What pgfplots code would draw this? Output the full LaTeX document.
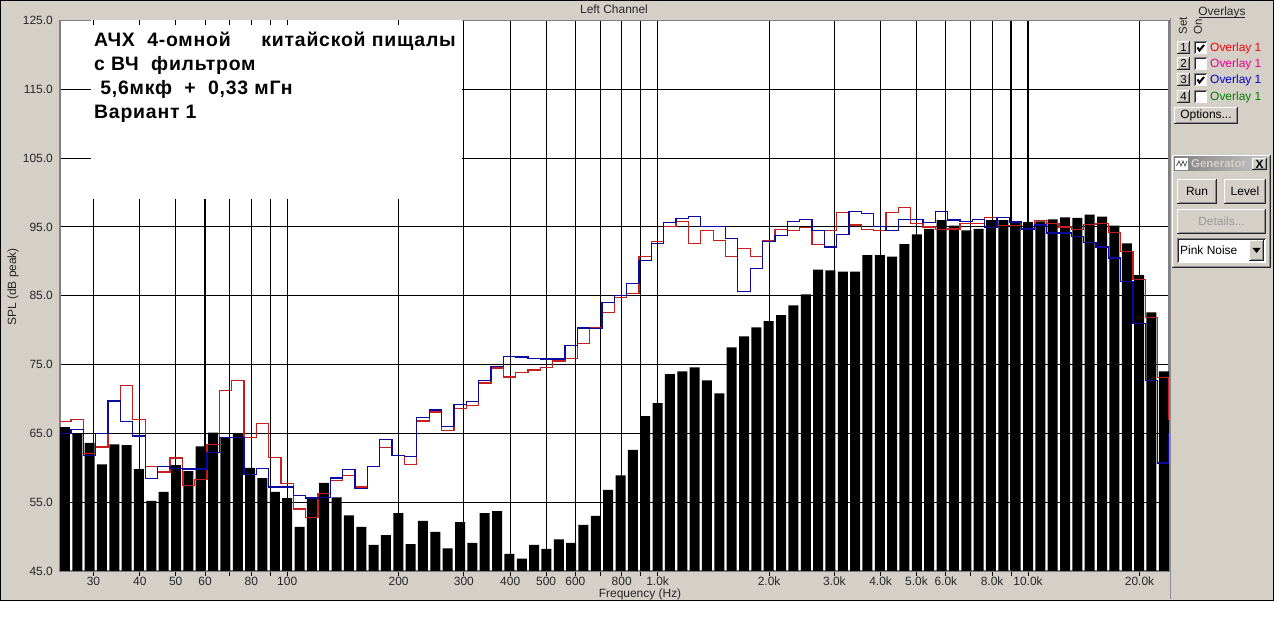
\documentclass[border=0pt]{standalone}
\usepackage{pgfplots}
\usepackage{pgfplotstable}
\pgfplotsset{compat=1.18}
\usepackage{fontspec}
\setmainfont{Liberation Sans}
\definecolor{wingray}{HTML}{D4D0C8}
\definecolor{redline}{HTML}{C81E1E}
\definecolor{blueline}{HTML}{0A0AA0}
\pgfplotsset{layers/mylayers/.define layer set={axis background,axis grid,annot,axis ticks,main,axis lines,axis tick labels,axis descriptions,axis foreground}{}}

% k: band index, centre frequency = 10^(k/30) Hz (1/30 decade bands)
\pgfplotstableread{
k bar red blue
42 65.9 66.7 65.0
43 65.0 67.0 65.6
44 63.6 62.1 61.8
45 60.5 63.0 65.0
46 63.4 69.7 69.7
47 63.3 72.0 66.7
48 59.8 67.0 64.6
49 55.2 60.2 58.4
50 56.5 59.4 60.2
51 60.4 61.4 59.9
52 59.5 57.4 59.8
53 63.1 58.3 59.8
54 65.1 63.4 62.2
55 64.4 71.2 64.4
56 65.0 72.7 64.4
57 60.0 64.4 59.0
58 58.5 66.4 59.9
59 56.5 61.5 57.2
60 55.6 57.7 57.2
61 51.4 54.0 56.0
62 55.5 52.8 55.6
63 57.8 56.3 55.7
64 55.7 58.1 58.5
65 53.1 58.9 59.7
66 51.4 57.2 57.0
67 48.8 60.2 60.2
68 50.2 62.9 64.1
69 53.4 61.8 61.8
70 48.9 60.5 61.6
71 52.3 66.8 67.3
72 50.7 68.1 68.4
73 48.3 65.4 66.0
74 52.1 68.6 69.2
75 49.1 69.1 69.6
76 53.4 72.3 72.7
77 53.7 74.5 74.7
78 47.5 73.2 76.2
79 46.8 73.8 76.1
80 48.8 74.2 75.9
81 48.2 74.6 75.8
82 49.6 75.5 75.8
83 49.1 75.9 77.8
84 51.7 78.1 80.3
85 53.0 80.3 80.2
86 56.8 82.6 84.0
87 58.9 84.7 85.0
88 62.6 85.3 86.8
89 67.5 90.7 90.1
90 69.4 92.9 92.6
91 73.6 95.1 95.6
92 74.0 95.8 96.2
93 74.6 92.6 96.5
94 72.7 94.5 95.1
95 70.8 93.0 95.1
96 77.5 90.7 93.3
97 79.1 91.9 85.6
98 80.4 90.7 89.0
99 81.3 93.0 92.9
100 82.2 94.6 93.8
101 83.6 94.5 95.8
102 85.2 94.9 96.1
103 88.8 92.4 94.5
104 88.7 94.5 92.1
105 88.5 97.1 93.9
106 88.5 95.3 97.2
107 90.9 94.6 97.0
108 90.9 94.5 95.1
109 90.7 97.1 94.5
110 92.5 97.8 96.1
111 93.9 95.5 96.1
112 94.7 95.0 95.6
113 96.0 94.6 97.2
114 95.2 94.7 96.0
115 94.5 95.5 95.8
116 94.7 95.5 96.1
117 96.0 96.4 94.9
118 96.0 95.2 96.4
119 95.8 95.2 95.7
120 95.7 94.6 94.7
121 95.8 95.9 95.3
122 96.1 95.5 94.1
123 96.4 95.0 94.1
124 96.3 94.6 93.6
125 96.8 95.4 92.7
126 96.5 95.5 92.1
127 95.2 94.2 90.5
128 92.6 91.4 87.1
129 88.0 87.4 81.0
130 82.6 81.8 72.7
131 74.0 73.1 60.7
131.9 nan 66.9 65.0
}\data

\newcommand\winbtn[4]{%
  \fill[wingray] (#1,#2) rectangle (#3,#4);
  \draw[white, line width=1bp] ({#1+0.5},{#4-1}) -- ({#1+0.5},{#2+0.5}) -- ({#3-1},{#2+0.5});
  \draw[black!45, line width=1bp] ({#1+1.5},{#4-1.5}) -- ({#3-1.5},{#4-1.5}) -- ({#3-1.5},{#2+1.5});
  \draw[black!85, line width=1bp] ({#1},{#4-0.5}) -- ({#3-0.5},{#4-0.5}) -- ({#3-0.5},{#2});
}
\newcommand\chkbox[2]{%
  \fill[white] (#1,#2) rectangle ({#1+13},{#2+13});
  \draw[black!50, line width=1bp] (#1+0.5,{#2+13}) -- (#1+0.5,#2+0.5) -- ({#1+13},#2+0.5);
  \draw[black!85, line width=1bp] (#1+1.5,{#2+12}) -- (#1+1.5,#2+1.5) -- ({#1+12},#2+1.5);
}
\newcommand\chkmark[2]{%
  \draw[black, line width=2bp] ({#1+3.5},{#2+6}) -- ({#1+5.5},{#2+9}) -- ({#1+10},{#2+3.5});
}

\begin{document}
\begin{tikzpicture}[x=1bp,y=1bp]
\fill[white] (0,0) rectangle (1274,637);
\fill[wingray] (0,37) rectangle (1274,637);

\begin{axis}[
  at={(60bp,66bp)}, anchor=south west, scale only axis,
  width=1109bp, height=550.5bp,
  set layers=mylayers,
  xmode=log, xmin=24.36, xmax=24033, ymin=45, ymax=125,
  axis background/.style={fill=white},
  xtick={30,40,50,60,80,100,200,300,400,500,600,800,1000,2000,3000,4000,5000,6000,8000,10000,20000},
  xticklabels={30,40,50,60,80,100,200,300,400,500,600,800,1.0k,2.0k,3.0k,4.0k,5.0k,6.0k,8.0k,10.0k,20.0k},
  minor xtick={70,90,700,900,7000,9000},
  ytick={45,55,65,75,85,95,105,115,125},
  yticklabels={45.0,55.0,65.0,75.0,85.0,95.0,105.0,115.0,125.0},
  xmajorgrids, xminorgrids, ymajorgrids,
  grid style={black, line width=1.15bp},
  minor grid style={black, line width=1.15bp},
  tick align=outside, xtick pos=bottom, ytick pos=left,
  major tick length=5bp, minor tick length=5bp,
  tick style={black, line width=1bp},
  ytick style={draw=none},
  ticklabel style={font=\fontsize{12}{14}\selectfont, text=black!85},
  xticklabel style={inner sep=1bp},
  yticklabel style={inner sep=2bp},
  axis line style={black!50, line width=1.5bp},
  xlabel={Frequency (Hz)}, ylabel={SPL (dB peak)},
  label style={font=\fontsize{12}{14}\selectfont, text=black!85, inner sep=0bp},
  xlabel style={at={(axis description cs:0.523,-0.0425)}, anchor=center},
  ylabel style={at={(axis description cs:-0.0424,0.516)}, anchor=center},
]
\fill[white, on layer=annot] (axis cs:29.5,99.06) rectangle (axis cs:296.5,126);
\pgfplotsinvokeforeach{30,40,50,60,70,80,90,100,200}{
  \draw[black, line width=1bp, on layer=annot] (axis cs:#1,125) -- ([yshift=-5bp]axis cs:#1,125);
}
\addplot[ybar, bar width=10bp, fill=black, draw=none] table[x expr={10^(\thisrow{k}/30)}, y=bar] {\data};
\addplot[const plot mark left, redline, line width=1.3bp] table[x expr={10^((\thisrow{k}-0.5)/30)}, y=red] {\data};
\addplot[const plot mark left, blueline, line width=1.3bp] table[x expr={10^((\thisrow{k}-0.5)/30)}, y=blue] {\data};
\end{axis}

% annotation
\begin{scope}[font=\fontsize{19.5}{24}\selectfont\bfseries\addfontfeature{LetterSpace=4}]
\node[anchor=base west, inner sep=0] at (94,{637-46.7}) {АЧХ\ \ 4-омной\ \ \ \ \hspace{6bp}китайской пищалы};
\node[anchor=base west, inner sep=0] at (94,{637-70.7}) {с ВЧ\ \ фильтром};
\node[anchor=base west, inner sep=0] at (94,{637-95}) {\ 5,6мкф\ \ +\ \ 0,33 мГн};
\node[anchor=base west, inner sep=0] at (94,{637-119}) {Вариант 1};
\end{scope}

\node[font=\fontsize{12}{14}\selectfont, text=black!85] at (614,{637-9}) {Left Channel};

% outer frame
\draw[black, line width=1bp] (0.5,36.5) rectangle (1273.5,636.5);

% right panel (image coordinates, y downward)
\begin{scope}[shift={(0,637)}, yscale=-1]
\fill[wingray] (1169.5,18) rectangle (1273,599.5);
\draw[black!45, line width=1bp] (1170.5,18) -- (1170.5,599.5);
\node[font=\fontsize{12}{14}\selectfont, text=black!85] at (1222,12) {Overlays};
\draw[black!85, line width=0.8bp] (1199,17.5) -- (1245,17.5);
\node[font=\fontsize{11.5}{13}\selectfont, text=black!85, rotate=90] at (1183,26) {Set};
\node[font=\fontsize{11.5}{13}\selectfont, text=black!85, rotate=90] at (1198,27) {On};
\foreach \yc/\num/\col/\on in {48/1/red/1, 64/2/magenta/0, 80/3/blue!80!black/1, 97/4/green!50!black/0}{
  \winbtn{1177}{\yc-6.5}{1190}{\yc+6.5}
  \node[font=\fontsize{11.5}{13}\selectfont, text=black] at (1183.5,\yc) {\num};
  \chkbox{1194}{\yc-6.5}
  \ifnum\on=1 \chkmark{1194}{\yc-6.5}\fi
  \node[anchor=west, inner sep=0, font=\fontsize{12}{14}\selectfont, text=\col] at (1210,\yc) {Overlay 1};
}
\winbtn{1174}{107}{1238}{124}
\node[font=\fontsize{12}{14}\selectfont, text=black] at (1206,115.5) {Options...};
% generator window
\winbtn{1172}{155}{1271}{268}
\shade[left color=black!50, right color=black!22] (1174,157) rectangle (1269,171);
\fill[white] (1175,158) rectangle (1188,170);
\draw[black!70, line width=0.7bp] (1176.5,166) -- (1179,161) -- (1181,166) -- (1183,161) -- (1185,166) -- (1187,161);
\node[anchor=west, inner sep=0, font=\fontsize{11.5}{13}\selectfont\bfseries, text=wingray] at (1191,164) {Generator};
\winbtn{1252}{158}{1267}{170}
\node[font=\fontsize{12}{13}\selectfont\bfseries] at (1259.5,164) {X};
\winbtn{1177}{179}{1217}{204}
\node[font=\fontsize{12}{14}\selectfont] at (1197,191) {Run};
\winbtn{1224}{179}{1266}{204}
\node[font=\fontsize{12}{14}\selectfont] at (1245,191) {Level};
\winbtn{1177}{209}{1266}{234}
\node[font=\fontsize{12}{14}\selectfont, text=black!40] at (1221.5,221.5) {Details...};
\fill[white] (1177,238) rectangle (1266,263);
\draw[black!50, line width=1bp] (1177.5,263) -- (1177.5,238.5) -- (1266,238.5);
\draw[black!85, line width=1bp] (1178.5,262) -- (1178.5,239.5) -- (1265,239.5);
\node[anchor=west, inner sep=0, font=\fontsize{12}{14}\selectfont] at (1180,250.5) {Pink Noise};
\winbtn{1249}{240}{1264}{261}
\fill[black] (1252.5,248) -- (1260.5,248) -- (1256.5,253) -- cycle;
\end{scope}
\end{tikzpicture}
\end{document}
